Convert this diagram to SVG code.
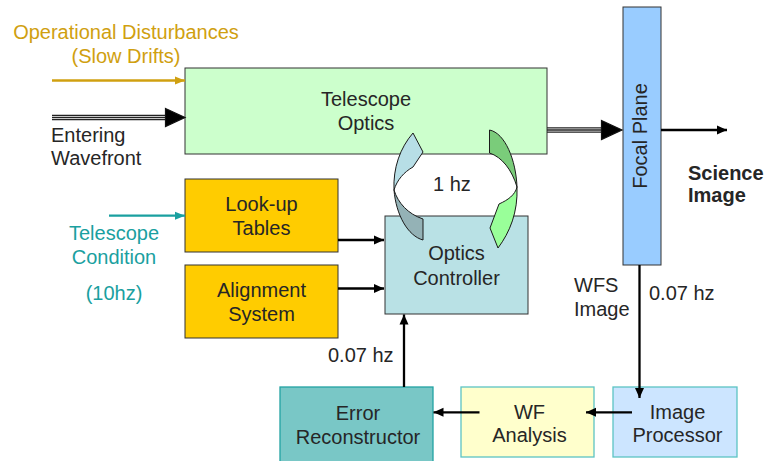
<svg xmlns="http://www.w3.org/2000/svg" width="765" height="461" viewBox="0 0 765 461">
<defs>
<style>
text{font-family:"Liberation Sans",Arial,sans-serif;font-size:20px;fill:#262626}
.c{text-anchor:middle}
.box{stroke:#333;stroke-width:1}
.ln{stroke:#000;stroke-width:2.3;fill:none}
.tri{stroke:#111;stroke-width:1.2}
.cv{stroke:#1a1a1a;stroke-width:1}
</style>
<marker id="ah" markerUnits="userSpaceOnUse" markerWidth="11" markerHeight="10" refX="10" refY="5" orient="auto"><path d="M0,0.5 L10,5 L0,9.5 z" fill="#000"/></marker>
<marker id="ahg" markerUnits="userSpaceOnUse" markerWidth="11" markerHeight="10" refX="10" refY="5" orient="auto"><path d="M0,1 L10,5 L0,9 z" fill="#D0A010"/></marker>
<marker id="aht" markerUnits="userSpaceOnUse" markerWidth="11" markerHeight="10" refX="10" refY="5" orient="auto"><path d="M0,1 L10,5 L0,9 z" fill="#1AA0A0"/></marker>
</defs>
<rect width="765" height="461" fill="#fff"/>

<g id="labels">
<text class="c" x="126" y="39" style="fill:#D0A010">Operational Disturbances</text>
<text class="c" x="126" y="63" style="fill:#D0A010">(Slow Drifts)</text>
<text x="51" y="142">Entering</text>
<text x="51" y="165">Wavefront</text>
<text class="c" x="114" y="240" style="fill:#1AA0A0">Telescope</text>
<text class="c" x="114" y="264" style="fill:#1AA0A0">Condition</text>
<text class="c" x="114" y="300" style="fill:#1AA0A0">(10hz)</text>
<text x="688" y="180" style="font-weight:bold">Science</text>
<text x="688" y="202" style="font-weight:bold">Image</text>
<text x="574" y="292">WFS</text>
<text x="574" y="316">Image</text>
<text x="649" y="300">0.07 hz</text>
<text x="433" y="191">1 hz</text>
<text x="328" y="362">0.07 hz</text>
</g>

<g id="telescope-optics">
<rect class="box" x="185" y="68" width="362" height="86" fill="#CCFFCC"/>
<text class="c" x="366" y="106">Telescope</text>
<text class="c" x="366" y="130">Optics</text>
</g>
<g id="focal-plane">
<rect class="box" x="623" y="7" width="38" height="258" fill="#99CCFF" stroke="#555"/>
<text class="c" transform="translate(647,136) rotate(-90)">Focal Plane</text>
</g>
<g id="lookup-tables">
<rect class="box" x="185" y="179" width="153" height="73" fill="#FFCC00"/>
<text class="c" x="261.5" y="211">Look-up</text>
<text class="c" x="261.5" y="235">Tables</text>
</g>
<g id="alignment-system">
<rect class="box" x="185" y="265" width="153" height="73" fill="#FFCC00"/>
<text class="c" x="261.5" y="297">Alignment</text>
<text class="c" x="261.5" y="321">System</text>
</g>
<g id="optics-controller">
<rect class="box" x="385" y="216" width="143" height="98" fill="#B9E1E5" stroke="#555"/>
<text class="c" x="456.5" y="260">Optics</text>
<text class="c" x="456.5" y="285">Controller</text>
</g>
<g id="error-reconstructor">
<rect x="280" y="387" width="153" height="80" fill="#79C7C6" stroke="#22A3A3" stroke-width="1.3"/>
<text class="c" x="358" y="420">Error</text>
<text class="c" x="358" y="443.5">Reconstructor</text>
</g>
<g id="wf-analysis">
<rect x="461" y="387" width="133" height="70" fill="#FFFFCC" stroke="#5CC4C4" stroke-width="1.3"/>
<text class="c" x="529.5" y="418.5">WF</text>
<text class="c" x="529.5" y="441.5">Analysis</text>
</g>
<g id="image-processor">
<rect x="613" y="387" width="124" height="70" fill="#CCE5FF" stroke="#5CC4C4" stroke-width="1.3"/>
<text class="c" x="677.5" y="418.5">Image</text>
<text class="c" x="677.5" y="442">Processor</text>
</g>

<g id="connectors">
<line x1="52" y1="80.5" x2="185" y2="80.5" stroke="#D0A010" stroke-width="2.3" marker-end="url(#ahg)"/>
<g stroke="#222" stroke-width="1.3">
<line x1="52" y1="115.3" x2="168" y2="115.3"/>
<line x1="52" y1="117.5" x2="168" y2="117.5"/>
<line x1="52" y1="119.7" x2="168" y2="119.7"/>
<line x1="547" y1="127.8" x2="604" y2="127.8"/>
<line x1="547" y1="130" x2="604" y2="130"/>
<line x1="547" y1="132.2" x2="604" y2="132.2"/>
</g>
<polygon class="tri" points="165.5,108.5 185,117.5 165.5,126.5" fill="#000"/>
<polygon class="tri" points="601.5,120.5 622,130 601.5,139.5" fill="#000"/>
<line x1="109" y1="215.7" x2="185" y2="215.7" stroke="#1AA0A0" stroke-width="2.3" marker-end="url(#aht)"/>
<line class="ln" x1="661" y1="130" x2="727" y2="130" marker-end="url(#ah)"/>
<line class="ln" x1="338" y1="240" x2="384" y2="240" marker-end="url(#ah)"/>
<line class="ln" x1="338" y1="288.5" x2="384" y2="288.5" marker-end="url(#ah)"/>
<line class="ln" x1="639.5" y1="265" x2="639.5" y2="398" stroke-width="2.6" marker-end="url(#ah)"/>
<line class="ln" x1="632" y1="412.3" x2="586" y2="412.3" stroke-width="2.6" marker-end="url(#ah)"/>
<line class="ln" x1="479.5" y1="412.3" x2="433.5" y2="412.3" stroke-width="2.6" marker-end="url(#ah)"/>
<line class="ln" x1="404" y1="387" x2="404" y2="314.5" stroke-width="2.6" marker-end="url(#ah)"/>
<g id="loop-arrows">
<path class="cv" fill="#94B2B6" d="M394,190 C396,215 408,236 423,240 L423,219 C408,214 398,203 394,190 Z"/>
<path class="cv" fill="#B7DEE6" d="M394,190 C393,168 400,148 413,133 L423,152 L413,167 C404,172 397,180 394,190 Z"/>
<path class="cv" fill="#7ACC7A" d="M489.5,130 C505,133 516,160 517,187 C512,170 502,157 489.5,153 Z"/>
<path class="cv" fill="#99FF99" d="M517,187 C518,212 510,232 498,248 L490,228 L499,204 C508,200 515,195 517,187 Z"/>
</g>
</g>
</svg>
